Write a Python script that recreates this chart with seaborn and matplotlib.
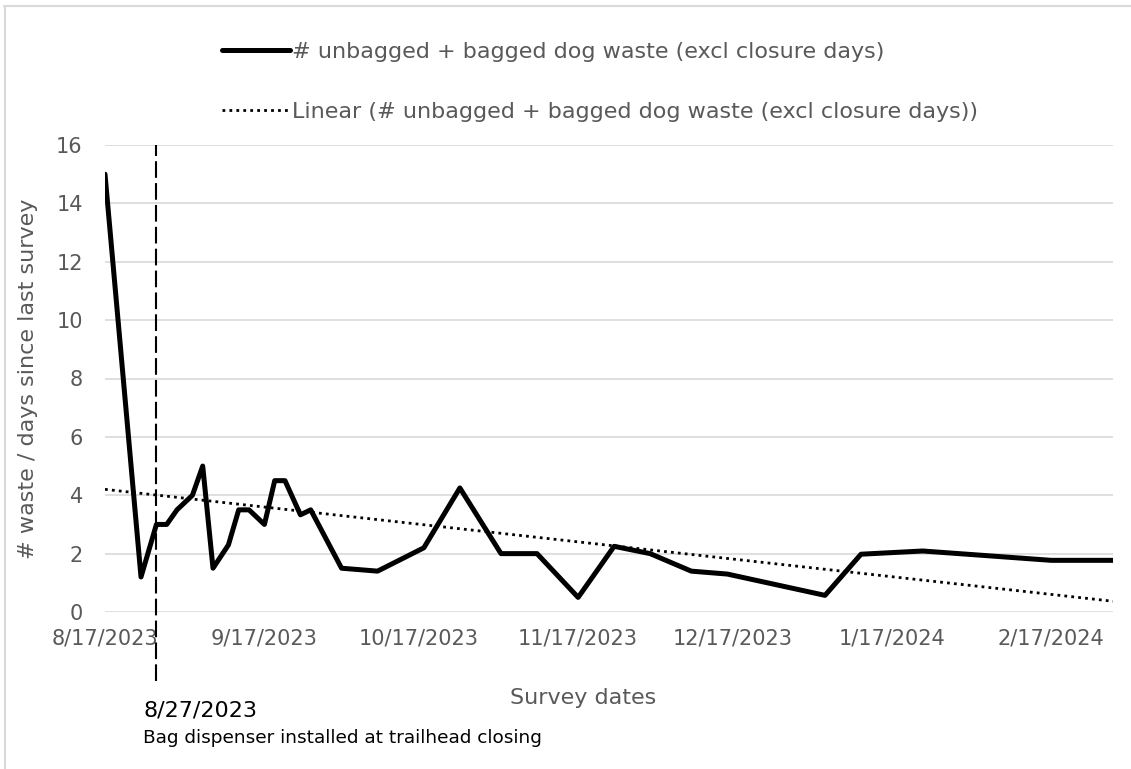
import numpy as np
import pandas as pd
import matplotlib
matplotlib.use("Agg")
import matplotlib.pyplot as plt
import matplotlib.dates as mdates
from matplotlib.lines import Line2D
import seaborn as sns

# survey data
survey_dates = [
    "2023-08-17", "2023-08-24", "2023-08-27", "2023-08-29", "2023-08-31",
    "2023-09-03", "2023-09-05", "2023-09-07", "2023-09-10", "2023-09-12",
    "2023-09-14", "2023-09-17", "2023-09-19", "2023-09-21", "2023-09-24",
    "2023-09-26", "2023-10-02", "2023-10-09", "2023-10-18", "2023-10-25",
    "2023-11-02", "2023-11-09", "2023-11-17", "2023-11-24", "2023-12-01",
    "2023-12-09", "2023-12-16", "2024-01-04", "2024-01-11", "2024-01-23",
    "2024-02-17", "2024-02-29",
]
waste_per_day = [
    15.0, 1.2, 3.0, 3.0, 3.5,
    4.0, 5.0, 1.5, 2.3, 3.5,
    3.5, 3.0, 4.5, 4.5, 3.33,
    3.5, 1.5, 1.4, 2.2, 4.25,
    2.0, 2.0, 0.5, 2.25, 2.0,
    1.4, 1.3, 0.57, 1.98, 2.09,
    1.77, 1.77,
]
tick_dates = ["2023-08-17", "2023-09-17", "2023-10-17", "2023-11-17",
              "2023-12-17", "2024-01-17", "2024-02-17"]
tick_labels = ["8/17/2023", "9/17/2023", "10/17/2023", "11/17/2023",
               "12/17/2023", "1/17/2024", "2/17/2024"]
y_ticks = [0, 2, 4, 6, 8, 10, 12, 14, 16]

event_date = "2023-08-27"
event_label = "8/27/2023"
event_note = "Bag dispenser installed at trailhead closing"

series_name = "# unbagged + bagged dog waste (excl closure days)"
trend_name = "Linear (# unbagged + bagged dog waste (excl closure days))"

df = pd.DataFrame({"date": pd.to_datetime(survey_dates), "value": waste_per_day})

# linear trendline like Excel's (least squares on date serial)
xnum = mdates.date2num(df["date"])
slope, intercept = np.polyfit(xnum, df["value"], 1)
df["trend"] = slope * xnum + intercept

sns.set_theme(style="white")
plt.rcParams["font.family"] = ["DejaVu Sans"]
grey = "#595959"

W, H = 1131, 769
fig = plt.figure(figsize=(W / 100, H / 100), dpi=100)
ax = fig.add_axes([105 / W, 1 - 612 / H, 1008 / W, 467 / H])

sns.lineplot(data=df, x="date", y="value", ax=ax, color="black", lw=3.6,
             label=series_name, zorder=3)
sns.lineplot(data=df, x="date", y="trend", ax=ax, color="black", lw=2.0,
             linestyle=(0, (1, 1.5)), label=trend_name, zorder=2)

ax.set_xlim(df["date"].iloc[0], df["date"].iloc[-1])
ax.set_ylim(0, 16)
ax.set_yticks(y_ticks)
ax.set_xticks(pd.to_datetime(tick_dates))
ax.set_xticklabels(tick_labels)
ax.tick_params(axis="both", length=0, labelsize=15, labelcolor=grey)
ax.tick_params(axis="x", pad=12)
ax.tick_params(axis="y", pad=16)
ax.grid(axis="y", color="#d9d9d9", lw=1.2)
ax.grid(axis="x", visible=False)
for s in ax.spines.values():
    s.set_visible(False)

ax.set_xlabel("Survey dates", fontsize=16, color=grey)
ax.xaxis.set_label_coords((583 - 105) / 1008, -86 / 467)
ax.xaxis.label.set_va("center")
ax.set_ylabel("# waste / days since last survey", fontsize=16, color=grey)
ax.yaxis.set_label_coords(-77 / 1008, 0.5)
ax.yaxis.label.set_va("center")

# dashed marker for the dispenser installation
ev = pd.to_datetime(event_date)
ax.vlines(ev, -2.35, 16, colors="black", linestyles=(0, (8, 2.5)), lw=1.5,
          clip_on=False, zorder=4)
ax.annotate(event_label, xy=(ev, 0), xycoords="data", xytext=(-9.5, -71),
            textcoords="offset points", fontsize=16, color="black",
            ha="left", va="center", annotation_clip=False)
ax.annotate(event_note, xy=(ev, 0), xycoords="data", xytext=(-9.5, -91),
            textcoords="offset points", fontsize=13.3, color="black",
            ha="left", va="center", annotation_clip=False)

leg = ax.legend(loc="center left", bbox_to_anchor=(222 / W, 1 - 82 / H),
                bbox_transform=fig.transFigure, frameon=False, fontsize=16,
                handlelength=3.05, handletextpad=0.12, labelspacing=1.8,
                borderpad=0, borderaxespad=0, labelcolor=grey)

# chart-area border (top and left edges visible)
fig.add_artist(Line2D([4 / W, 1], [1 - 6 / H, 1 - 6 / H],
                      color="#d9d9d9", lw=1.5, transform=fig.transFigure))
fig.add_artist(Line2D([5 / W, 5 / W], [0, 1 - 6 / H],
                      color="#d9d9d9", lw=1.5, transform=fig.transFigure))

fig.savefig("out.png", dpi=100)
